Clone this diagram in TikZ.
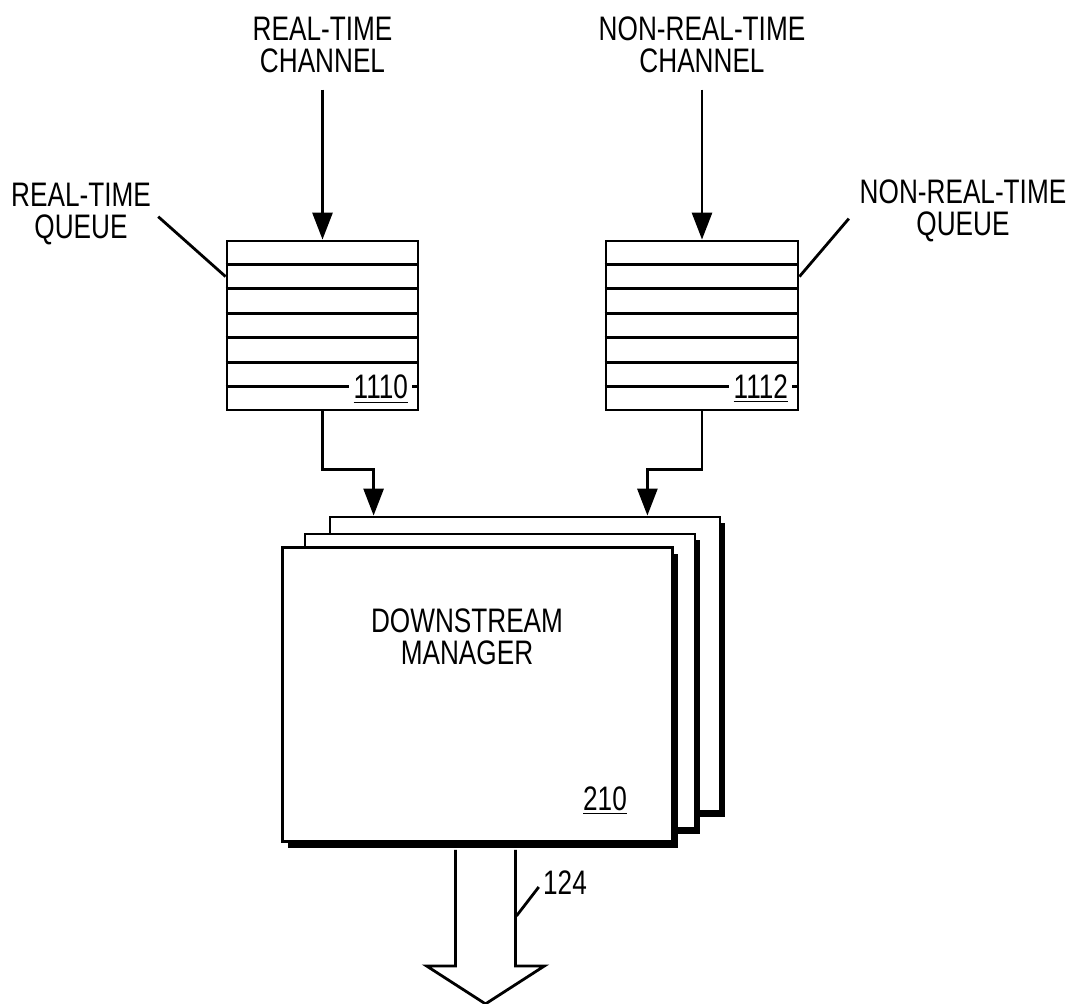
\documentclass[tikz,border=0pt]{standalone}
\usepackage{fontspec}
\setmainfont{Liberation Sans}[FakeStretch=0.77]
\usetikzlibrary{arrows.meta, positioning, calc, shadows}
\tikzset{
    lbl/.style={font=\fontsize{17}{16}\selectfont, align=center, inner sep=2pt},
    queuebox/.style={rectangle, draw, line width=1.4pt, minimum width=95.5pt, minimum height=84.5pt, inner sep=0pt},
    mgrbox/.style={rectangle, draw, fill=white, line width=1.4pt, minimum width=195pt, minimum height=147pt, inner sep=0pt,
        drop shadow={shadow xshift=2.5pt, shadow yshift=-3pt, fill=black, opacity=1}},
    arrow/.style={-{Triangle[length=13.5pt, width=10pt]}, line width=1.4pt},
    leader/.style={line width=1.4pt},
}

\begin{document}
\begin{tikzpicture}[x=0.5pt, y=-0.5pt]
\useasboundingbox (0,0) rectangle (1085,1004);

% Queues
\node[queuebox] (rt-queue) at (322.5,325.5) {};
\node[queuebox, minimum width=96pt] (nrt-queue) at (702,325.5) {};

% Channel and queue titles
\node[lbl, above=81pt of rt-queue] (rt-channel) {REAL-TIME\\CHANNEL};
\node[lbl, above=81pt of nrt-queue] (nrt-channel) {NON-REAL-TIME\\CHANNEL};
\node[lbl] (rtq-lbl) at (81,214) {REAL-TIME\\QUEUE};
\node[lbl] (nrtq-lbl) at (963,211) {NON-REAL-TIME\\QUEUE};

% Queue slots
\foreach \q in {rt-queue, nrt-queue} {
    \foreach \k in {1,...,5}
        \draw[leader] ($(\q.north west)!\k/7!(\q.south west)$) -- ($(\q.north east)!\k/7!(\q.south east)$);
    \coordinate (\q-slot) at ($(\q.north east)!6/7!(\q.south east)$);
}

% Reference numerals on the last slot line
\node[lbl, anchor=base east] (rt-num) at ($(rt-queue-slot)+(-7,12)$) {\underline{1110}};
\node[lbl, anchor=base east] (nrt-num) at ($(nrt-queue-slot)+(-7,12)$) {\underline{1112}};
\draw[leader] (rt-queue.west |- rt-queue-slot) -- (rt-num.west |- rt-queue-slot);
\draw[leader] (rt-num.east |- rt-queue-slot) -- (rt-queue-slot);
\draw[leader] (nrt-queue.west |- nrt-queue-slot) -- (nrt-num.west |- nrt-queue-slot);
\draw[leader] (nrt-num.east |- nrt-queue-slot) -- (nrt-queue-slot);

% Downstream manager stack
\node[mgrbox] (back) at (525,664) {};
\node[mgrbox] (middle) at (500,681) {};
\node[mgrbox] (front) at (477.5,694.5) {};
\node[lbl] (mgr-text) at (467,637) {DOWNSTREAM\\MANAGER};
\node[lbl] (mgr-num) at (605,801) {\underline{210}};

% Inputs
\draw[arrow, shorten <=6pt] (rt-channel.south) -- (rt-queue.north);
\draw[arrow, shorten <=6pt] (nrt-channel.south) -- (nrt-queue.north);
\draw[leader, shorten <=2pt] (rtq-lbl.east) -- ($(rt-queue.north west)+(0,37)$);
\draw[leader, shorten <=5pt] (nrtq-lbl.west) -- ($(nrt-queue.north east)+(0,37)$);

% Queues to manager
\draw[arrow] (rt-queue.south) -- ++(0,58) -| ($(back.north west)+(45,0)$);
\draw[arrow] (nrt-queue.south) -- ++(0,58) -| ($(back.north east)+(-74,0)$);

% Output 124
\coordinate (out-top) at ($(front.south)+(8,7)$);
\draw[leader, fill=white] ($(out-top)+(-30,0)$) -- ++(0,116) -- ++(-29,0) -- ++(59,38) -- ++(59,-38) -- ++(-29,0) -- ++(0,-116);
\node[lbl] (out-num) at (565,883) {124};
\draw[leader] ($(out-top)+(31,66)$) -- ([yshift=-2pt]out-num.west);

\end{tikzpicture}
\end{document}
